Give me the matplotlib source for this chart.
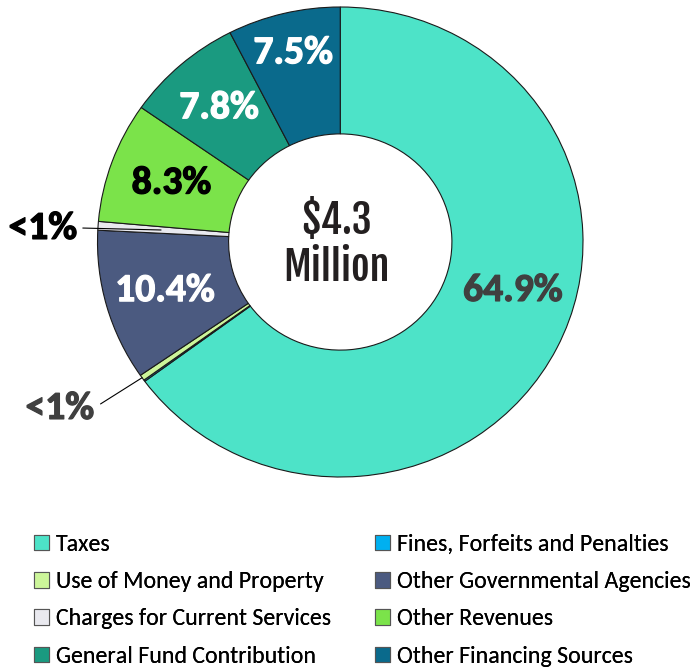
import numpy as np
import matplotlib
matplotlib.use("Agg")
import matplotlib.pyplot as plt
import matplotlib.patheffects as pe
from matplotlib.patches import Patch

# data (share of total revenue, %)
categories = ["Taxes", "Fines, Forfeits and Penalties", "Use of Money and Property",
              "Other Governmental Agencies", "Charges for Current Services",
              "Other Revenues", "General Fund Contribution", "Other Financing Sources"]
shares = [64.9, 0.1, 0.4, 10.4, 0.6, 8.3, 7.8, 7.5]
labels = ["64.9%", "", "<1%", "10.4%", "<1%", "8.3%", "7.8%", "7.5%"]
colors = ["#4DE3C8", "#00B0F0", "#CCF59A", "#4B5A80", "#E9E9EF",
          "#7BE34A", "#1A9A80", "#0A6A8C"]
label_colors = ["#404040", "white", "#404040", "white", "black", "black", "white", "white"]
center_text = "$4.3\nMillion"

body = ["Carlito", "Lato", "DejaVu Sans"]
narrow = ["Fjalla One", "Anton", "Oswald", "DejaVu Sans"]

fig = plt.figure(figsize=(6.92, 6.70), dpi=100)
ax = fig.add_axes([97.5 / 692, 193 / 670, 485.5 / 692, 470 / 670])

wedges, _ = ax.pie(shares, colors=colors, startangle=90, counterclock=False,
                   radius=1.0, wedgeprops=dict(width=0.54, edgecolor="#1a1a1a", linewidth=0.8))
ax.set_aspect("auto")
ax.set_xlim(-1, 1)
ax.set_ylim(-1, 1)


def lab_font(c):
    # thicken the strokes a bit so the labels read as heavy bold
    return dict(family=body, fontsize=28.5, fontweight="bold", color=c,
                path_effects=[pe.withStroke(linewidth=0.9, foreground=c)])


# where each label sits (radius as fraction of outer radius, optional angle)
label_r = {0: 0.74, 3: 0.75, 5: 0.74, 6: 0.76, 7: 0.83}
label_ang = {0: -16}

for i, w in enumerate(wedges):
    if i not in label_r:
        continue
    ang = label_ang.get(i, (w.theta1 + w.theta2) / 2)
    r = label_r[i]
    ax.text(r * np.cos(np.radians(ang)), r * np.sin(np.radians(ang)), labels[i],
            ha="center", va="center", **lab_font(label_colors[i]))

# small slices with leader lines
w = wedges[4]
mid = np.radians((w.theta1 + w.theta2) / 2)
ax.annotate(labels[4], xy=(0.74 * np.cos(mid), 0.74 * np.sin(mid)), xytext=(-1.225, 0.06),
            ha="center", va="center",
            arrowprops=dict(arrowstyle="-", color="black", lw=0.8, relpos=(1, 0.5),
                            shrinkA=2, shrinkB=0), **lab_font(label_colors[4]))
w = wedges[2]
mid = np.radians((w.theta1 + w.theta2) / 2)
ax.annotate(labels[2], xy=(np.cos(mid), np.sin(mid)), xytext=(-1.155, -0.706),
            ha="center", va="center",
            arrowprops=dict(arrowstyle="-", color="black", lw=0.8, relpos=(1, 0.5),
                            shrinkA=3, shrinkB=0), **lab_font(label_colors[2]))

ax.text(-0.015, -0.01, center_text, ha="center", va="center", color="#231F20",
        family=narrow, fontweight="bold", fontsize=29, linespacing=1.1)

# legend: two separate columns
leg_kw = dict(loc="upper left", frameon=False, handlelength=0.62, handleheight=0.62,
              handletextpad=0.3, labelspacing=0.68, borderpad=0, borderaxespad=0,
              prop=dict(family=body, size=17.2))
for col, x0 in ((0, 34), (1, 375)):
    idx = [0, 2, 4, 6] if col == 0 else [1, 3, 5, 7]
    handles = [Patch(facecolor=colors[i], edgecolor="#555555", linewidth=0.8, label=categories[i])
               for i in idx]
    leg = fig.legend(handles=handles, bbox_to_anchor=(x0 / 692, 1 - 534 / 670), **leg_kw)
    fig.add_artist(leg)

fig.savefig("out.png", dpi=100)
